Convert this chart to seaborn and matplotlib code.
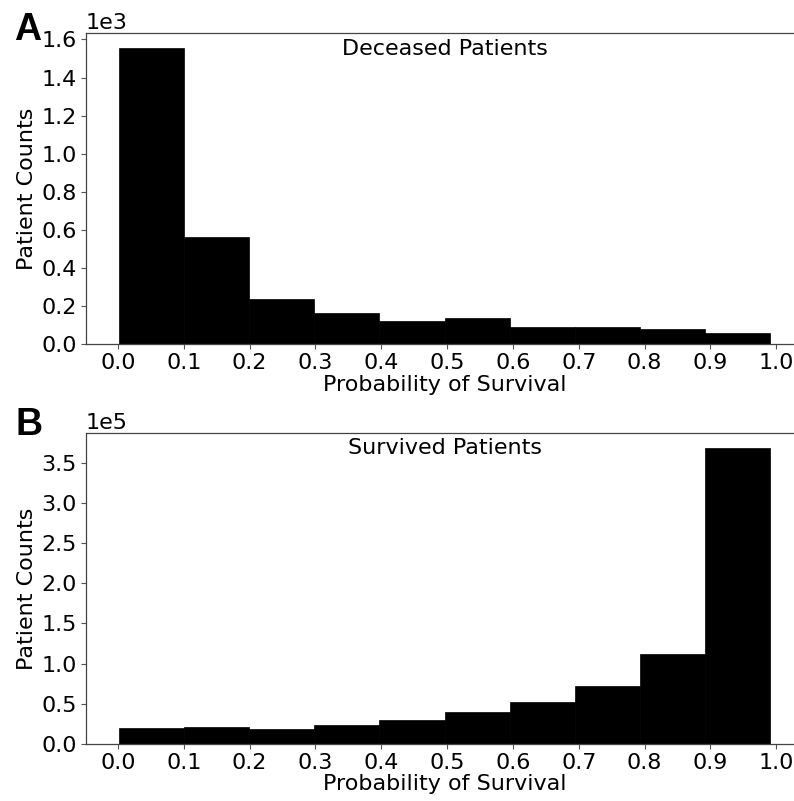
import numpy as np
import pandas as pd
import matplotlib
matplotlib.use("Agg")
import matplotlib.pyplot as plt
import matplotlib.transforms as mtransforms
import seaborn as sns

# Data
bin_edges = [0.001, 0.100, 0.199, 0.298, 0.397, 0.496, 0.595, 0.694, 0.793, 0.892, 0.991]
deceased_counts = [1556, 563, 237, 166, 124, 137, 93, 93, 79, 58]
survived_counts = [19500, 21100, 19000, 23200, 30200, 39400, 51900, 71800, 111600, 369000]
x_ticks = [0.0, 0.1, 0.2, 0.3, 0.4, 0.5, 0.6, 0.7, 0.8, 0.9, 1.0]

sns.set_style("ticks")
plt.rcParams['font.family'] = ['DejaVu Sans']
plt.rcParams['text.color'] = 'black'
plt.rcParams['axes.labelcolor'] = 'black'
plt.rcParams['xtick.color'] = 'black'
plt.rcParams['ytick.color'] = 'black'

W, H = 8.20, 8.01
fig = plt.figure(figsize=(W, H), dpi=100)
Wp, Hp = W * 100, H * 100
ax1 = fig.add_axes([86 / Wp, 1 - 344.3 / Hp, 717 / Wp, 311.3 / Hp])
ax2 = fig.add_axes([86 / Wp, 1 - 744 / Hp, 717 / Wp, 311.3 / Hp])

centers = [(bin_edges[i] + bin_edges[i + 1]) / 2 for i in range(len(bin_edges) - 1)]

panels = [
    (ax1, deceased_counts, "Deceased Patients"),
    (ax2, survived_counts, "Survived Patients"),
]
fs = 16
for ax, counts, title in panels:
    df = pd.DataFrame({"p": centers, "n": counts})
    sns.histplot(data=df, x="p", weights="n", bins=bin_edges, ax=ax,
                 color="black", alpha=1, edgecolor="black", linewidth=0.5)
    ax.set_xlim(bin_edges[0] - 0.0495, bin_edges[-1] + 0.0495)
    ax.set_ylim(0, max(counts) * 1.05)
    ax.set_xticks(x_ticks)
    ax.set_xticklabels([f"{t:.1f}" for t in x_ticks])
    ax.ticklabel_format(axis="y", style="sci", scilimits=(0, 0))
    ax.yaxis.get_offset_text().set_fontsize(fs)
    ax.tick_params(labelsize=fs, length=3.5, width=0.8, color="#555555", pad=3)
    ax.set_xlabel("Probability of Survival", fontsize=fs, labelpad=1)
    ax.set_ylabel("Patient Counts", fontsize=fs, labelpad=3)
    for s in ["top", "bottom", "left"]:
        ax.spines[s].set_color("#444444")
        ax.spines[s].set_linewidth(0.9)
    ax.spines["right"].set_visible(False)
    ax.text(0.5, 0.95, title, transform=ax.transAxes, ha="center", va="center",
            fontsize=fs)
    ax.grid(False)

ax1.yaxis.set_major_locator(matplotlib.ticker.MultipleLocator(200))
ax2.yaxis.set_major_locator(matplotlib.ticker.MultipleLocator(50000))

fig.text(14 / Wp, 1 - 39.5 / Hp, "A", fontsize=27, fontweight="bold",
         family="Liberation Sans", ha="left", va="baseline")
fig.text(15 / Wp, 1 - 435 / Hp, "B", fontsize=27, fontweight="bold",
         family="Liberation Sans", ha="left", va="baseline")

fig.savefig("out.png", dpi=100,
            bbox_inches=mtransforms.Bbox([[0, 0], [7.94, 8.01]]))
